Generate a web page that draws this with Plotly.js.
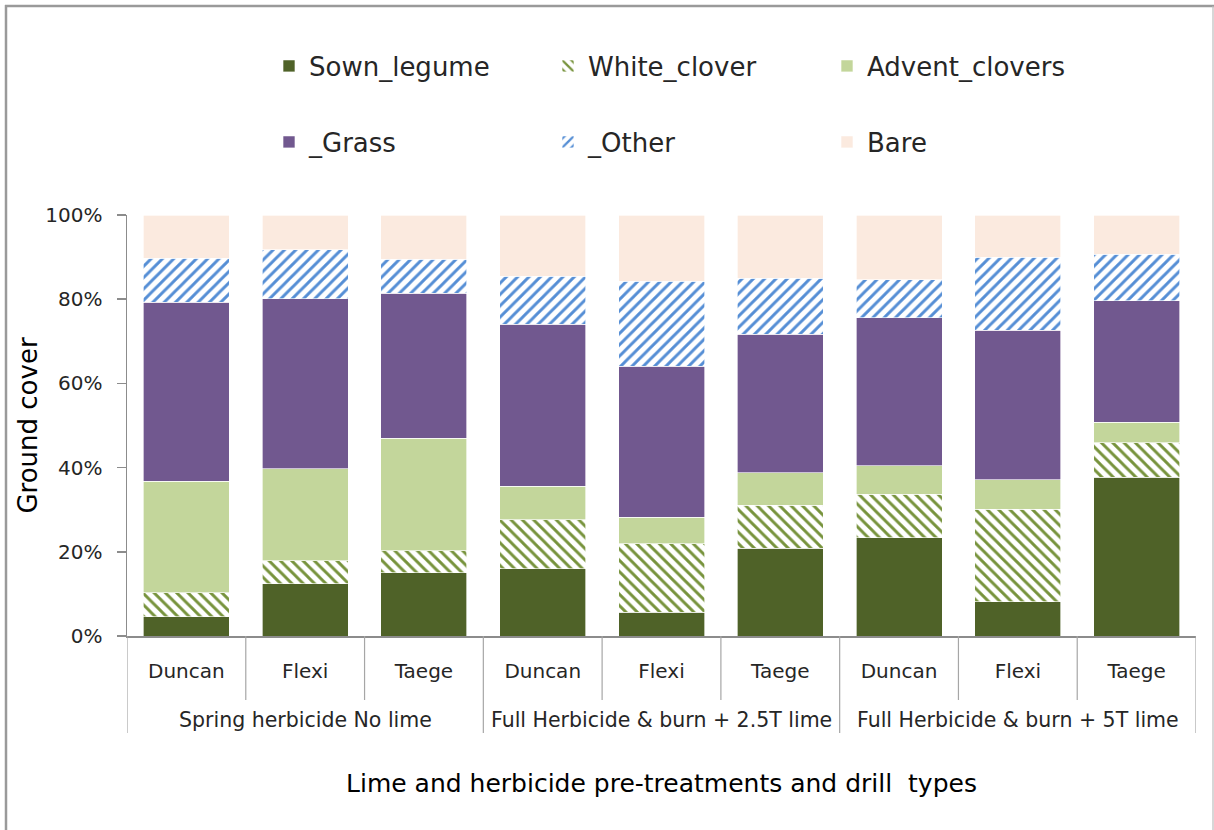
<!DOCTYPE html>
<html>
<head>
<meta charset="utf-8">
<script src="https://cdn.plot.ly/plotly-3.0.1.min.js"></script>
<style>html,body{margin:0;padding:0;background:#fff;}#chart{width:1214px;height:830px;}</style>
</head>
<body>
<div id="chart"></div>
<script>
// ---- data ----
var drills = ["Duncan", "Flexi", "Taege", "Duncan", "Flexi", "Taege", "Duncan", "Flexi", "Taege"];
var treatments = ["Spring herbicide No lime", "Full Herbicide & burn + 2.5T lime", "Full Herbicide & burn + 5T lime"];
var drillsPerTreatment = 3;
var sownLegume   = [4.6, 12.4, 15.0, 16.0, 5.6, 20.8, 23.3, 8.1, 37.7];
var whiteClover  = [5.7, 5.5, 5.3, 11.6, 16.3, 10.2, 10.4, 22.0, 8.2];
var adventClovers= [26.4, 21.8, 26.7, 8.0, 6.3, 7.8, 6.7, 7.0, 4.9];
var grass        = [42.6, 40.4, 34.4, 38.5, 35.9, 32.9, 35.2, 35.5, 28.8];
var other        = [10.4, 11.7, 8.1, 11.3, 20.2, 13.3, 9.0, 17.4, 11.1];
var bare         = [10.3, 8.2, 10.5, 14.6, 15.7, 15.0, 15.4, 10.0, 9.3];
var yTicks = [0, 20, 40, 60, 80, 100];
var yTickText = yTicks.map(function (v) { return v + "%"; });

// ---- layout helpers ----
var W = 1214, H = 830;
var M = {l: 127, r: 18, t: 215, b: 194};
var PW = W - M.l - M.r, PH = H - M.t - M.b;
function px(xp) { return (xp - M.l) / PW; }
function py(yp) { return (H - M.b - yp) / PH; }
var FONT = "DejaVu Sans, Arial, sans-serif";
var TXT = "#262626";
var AX = "#8c8c8c";

var xs = drills.map(function (d, i) { return i; });

function bar(name, vals, color, pattern, legend) {
  var m = {color: color, line: {color: "rgba(255,255,255,0.8)", width: 0.8}};
  if (pattern) {
    m.pattern = {shape: pattern.shape, fgcolor: pattern.fg, fgopacity: 1, bgcolor: "#ffffff",
                 size: 8, solidity: 0.36, fillmode: "replace"};
  }
  return {type: "bar", name: name, x: xs, y: vals, marker: m, legend: legend,
          hoverinfo: "y+name"};
}

var traces = [
  bar("Sown_legume", sownLegume, "#4F6228", null, "legend"),
  bar("White_clover", whiteClover, "#77933C", {shape: "\\", fg: "#77933C"}, "legend"),
  bar("Advent_clovers", adventClovers, "#C3D69B", null, "legend"),
  bar("_Grass", grass, "#71588F", null, "legend2"),
  bar("_Other", other, "#558ED5", {shape: "/", fg: "#558ED5"}, "legend2"),
  bar("Bare", bare, "#FBEADF", null, "legend2")
];

// dividers below the x axis (category boundaries)
var shapes = [];
for (var b = 0; b <= drills.length; b++) {
  var isGroup = (b % drillsPerTreatment === 0);
  shapes.push({type: "line", xref: "x", yref: "paper", x0: b - 0.5, x1: b - 0.5,
               y0: 0, y1: isGroup ? py(733) : py(700),
               line: {color: "#a6a6a6", width: 1.2}});
}
// outer chart border (left, top, right)
shapes.push({type: "line", xref: "paper", yref: "paper", x0: px(6), x1: px(6), y0: py(900), y1: py(5),
             line: {color: "#9a9a9a", width: 2.5}});
shapes.push({type: "line", xref: "paper", yref: "paper", x0: px(5), x1: px(1214), y0: py(6), y1: py(6),
             line: {color: "#9a9a9a", width: 2.5}});
shapes.push({type: "line", xref: "paper", yref: "paper", x0: px(1213), x1: px(1213), y0: py(900), y1: py(6),
             line: {color: "#bdbdbd", width: 1.2}});

var annotations = treatments.map(function (t, g) {
  return {text: t, xref: "x", yref: "paper", x: g * drillsPerTreatment + (drillsPerTreatment - 1) / 2,
          y: py(720), xanchor: "center", yanchor: "middle", showarrow: false,
          font: {family: FONT, size: 20.5, color: TXT}};
});

var legendCommon = {orientation: "h", xanchor: "left", yanchor: "middle",
  entrywidth: 234, entrywidthmode: "pixels", bgcolor: "rgba(0,0,0,0)",
  font: {family: FONT, size: 26, color: TXT}, itemwidth: 30, traceorder: "normal"};

var layout = {
  width: W, height: H, margin: M,
  paper_bgcolor: "#ffffff", plot_bgcolor: "#ffffff",
  barmode: "stack", bargap: 0.276,
  showlegend: true,
  legend: Object.assign({}, legendCommon, {x: px(269), y: py(66)}),
  legend2: Object.assign({}, legendCommon, {x: px(269), y: py(142)}),
  xaxis: {range: [-0.5, drills.length - 0.5], tickvals: xs, ticktext: drills,
          ticks: "", showline: true, linecolor: AX, linewidth: 1.5, showgrid: false, zeroline: false,
          tickfont: {family: FONT, size: 20, color: TXT}, ticklabelstandoff: 16,
          title: {text: "Lime and herbicide pre-treatments and drill  types",
                  font: {family: FONT, size: 25, color: "#000"}, standoff: 93},
          automargin: false, fixedrange: true},
  yaxis: {range: [0, 100], tickvals: yTicks, ticktext: yTickText, ticks: "outside", ticklen: 9,
          tickcolor: AX, tickwidth: 1.5, showline: true, linecolor: AX, linewidth: 1.5,
          showgrid: false, zeroline: false, ticklabelstandoff: 10,
          tickfont: {family: FONT, size: 20, color: TXT},
          title: {text: "Ground cover", font: {family: FONT, size: 26, color: "#000"}, standoff: 0},
          automargin: false, fixedrange: true},
  shapes: shapes,
  annotations: annotations
};

Plotly.newPlot("chart", traces, layout, {displayModeBar: false, staticPlot: true});
</script>
</body>
</html>
